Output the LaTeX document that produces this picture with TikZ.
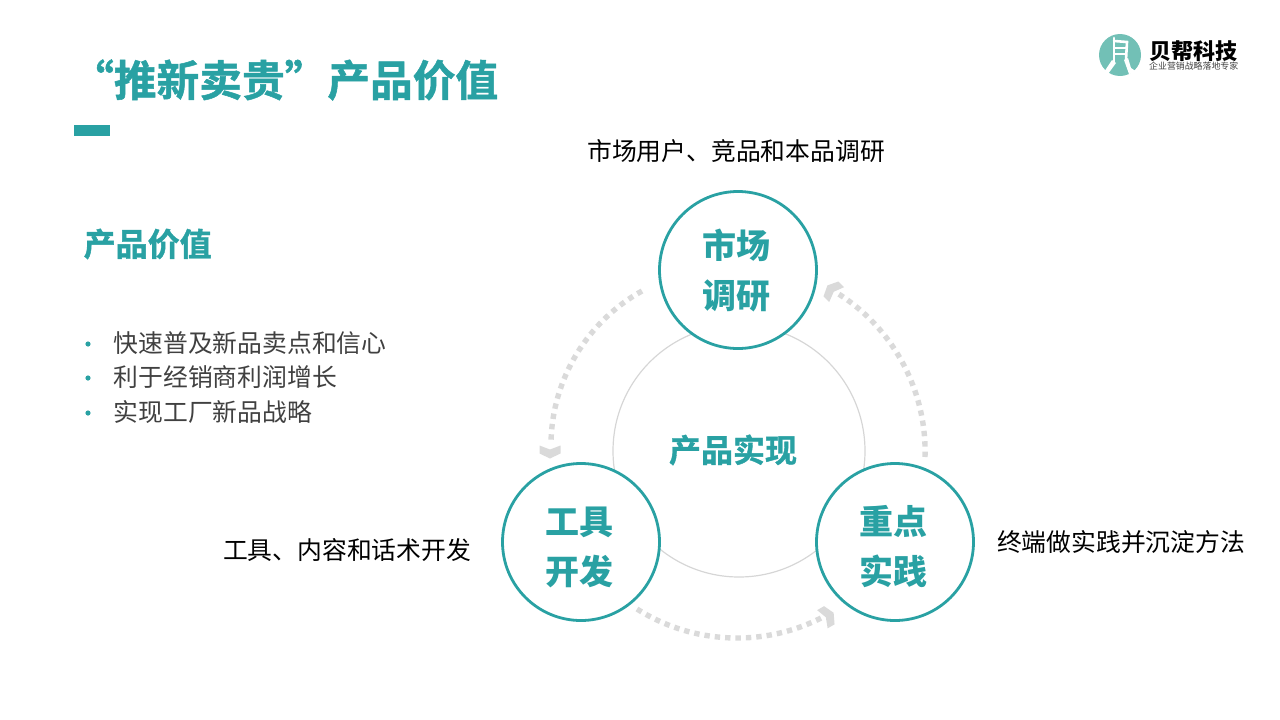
\documentclass[tikz,border=0pt]{standalone}
\usepackage{fontspec}
\setmainfont{Noto Sans CJK SC}
\newfontfamily\heavyfont[FakeBold=1.2]{Noto Sans CJK SC Bold}
\definecolor{teal}{HTML}{29A1A3}
\definecolor{logoteal}{HTML}{72C0B6}
\definecolor{dotgray}{HTML}{DADADA}
\definecolor{ringgray}{HTML}{D6D6D6}
\definecolor{textgray}{HTML}{404040}
\tikzset{
  stage/.style={
    circle,
    minimum size=157,
    inner sep=0,
    draw=teal,
    line width=2.8,
    fill=white},
  stagetext/.style={
    inner sep=0,
    align=center,
    text=teal,
    font=\fontsize{34}{50}\selectfont\bfseries},
  plain/.style={
    inner sep=0,
    font=\fontsize{24.8}{30}\selectfont},
  bullet/.style={
    plain,
    anchor=west,
    text=textgray},
  dots/.style={
    dotgray,
    line width=5.4,
    dash pattern=on 5.4 off 5},
  chevron/.pic={
    \fill[dotgray] (-6.5,-10.5) -- (-2.5,0) -- (-6.5,10.5) -- (1.5,10.5) -- (6.5,0) -- (1.5,-10.5) -- cycle;
  }
}

\begin{document}
\begin{tikzpicture}[x=1pt,y=-1pt]
  \useasboundingbox (0,0) rectangle (1280,720);

  \coordinate (L1) at (642,291);
  \coordinate (L2) at (551,442);
  \coordinate (R1) at (925,457);
  \coordinate (R2) at (837,293);
  \coordinate (B1) at (637,609);
  \coordinate (B2) at (823,617);

  % title
  \node[
    anchor=west,
    inner sep=0,
    text=teal,
    font=\fontsize{42.7}{50}\heavyfont] at (71,80) (title) {“推新卖贵”产品价值};
  \fill[teal] (74,125) rectangle (110,136);

  % left column
  \node[
    anchor=west,
    inner sep=0,
    text=teal,
    font=\fontsize{32}{40}\heavyfont] at (83.5,244) (head) {产品价值};
  \node[bullet] at (113.5,343) (b1) {快速普及新品卖点和信心};
  \node[bullet] at (113.5,377) (b2) {利于经销商利润增长};
  \node[bullet] at (113.5,412) (b3) {实现工厂新品战略};
  \foreach \y in {344,378,413}
    \fill[teal] (88,\y) circle (2.6);

  % cycle
  \node[circle,minimum size=252,inner sep=0,draw=ringgray,line width=1.2] at (739,451) (ring) {};
  \node[
    inner sep=0,
    text=teal,
    font=\fontsize{32}{40}\heavyfont] at (733,450) (core) {产品实现};

  \node[stage] at (738,270) (market) {};
  \node[stage] at (581,542) (tool) {};
  \node[stage] at (895,542) (practice) {};
  \node[stagetext] at (736,271) (markettext) {市场\\调研};
  \node[stagetext] at (579,547) (tooltext) {工具\\开发};
  \node[stagetext] at (893,547) (practicetext) {重点\\实践};

  \draw[dots] (L1) to[bend right=30,looseness=.91] (L2);
  \draw[dots] (R1) to[bend right=30,looseness=.91] (R2);
  \draw[dots] (B1) to[bend right=30,looseness=.91] (B2);
  \pic[rotate=-90] at (550,452) {chevron};
  \pic[rotate=135] at (832,290) {chevron};
  \pic[rotate=30] at (828,616) {chevron};

  \node[plain] at (736,151) (lmarket) {市场用户、竞品和本品调研};
  \node[plain] at (347,550) (ltool) {工具、内容和话术开发};
  \node[plain] at (1121,542) (lpractice) {终端做实践并沉淀方法};

  % logo
  \fill[logoteal] (1120,55) circle (21);
  \draw[white,line width=2.8,line cap=round] (1114,38) -- (1114,62);
  \draw[white,line width=2.6,line cap=round] (1114,41) -- (1127,42) -- (1126,60);
  \draw[white,line width=2] (1114,48) -- (1126,48) (1114,54) -- (1126,54);
  \fill[white] (1112,60) -- (1116,63) -- (1108,74) -- (1104,72) -- cycle;
  \fill[white] (1124,60) -- (1128,58) -- (1131,68) -- (1137,72) -- (1129,74) -- cycle;
  \node[
    anchor=west,
    inner sep=0,
    font=\fontsize{22}{24}\selectfont\bfseries] at (1149,51.5) (brand) {贝帮科技};
  \node[
    anchor=west,
    inner sep=0,
    text=textgray,
    font=\fontsize{8.9}{10}\selectfont] at (1149,66) (slogan) {企业营销战略落地专家};
\end{tikzpicture}
\end{document}
